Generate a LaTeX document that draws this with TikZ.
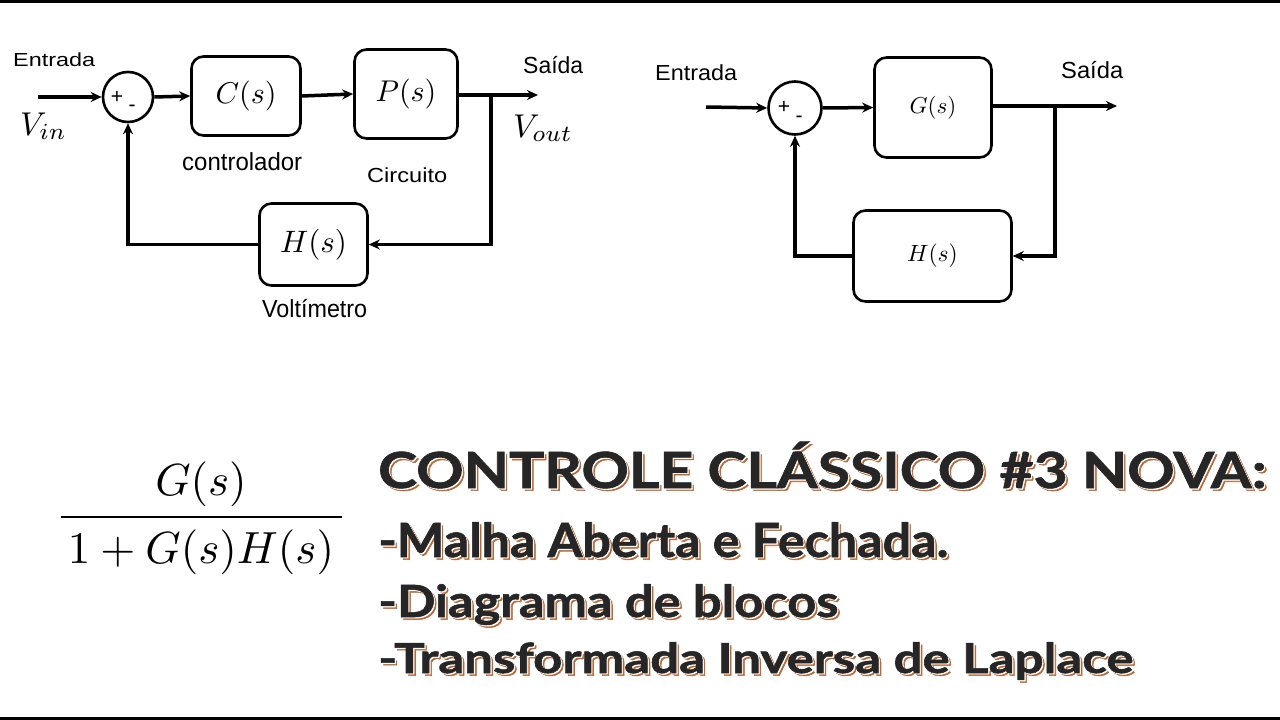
\documentclass[tikz,border=0pt]{standalone}
\usepackage[no-math]{fontspec}
\usepackage{graphicx}
\newfontfamily\arial{Liberation Sans}
\newfontfamily\titlefont{Lato}[BoldFeatures={FakeBold=1.2}]
\usetikzlibrary{arrows.meta}
\definecolor{shbrown}{RGB}{185,105,55}
\definecolor{tdark}{RGB}{38,38,38}
\newcommand\fitbox[3]{\resizebox{#1}{#2}{\smash{#3}\vphantom{H}}}
\newcommand\ttext[3]{\resizebox{#1}{#2}{\titlefont\bfseries\smash{#3}\vphantom{H}}}
\newcommand\mscale[2]{\scalebox{#1}{$#2$}}
\newcommand\shtext[3]{%
  \makebox[0pt][l]{\hspace{2.6pt}\raisebox{-2.6pt}{\color{shbrown}\ttext{#1}{#2}{#3}}}%
  \makebox[0pt][l]{\hspace{1.2pt}\raisebox{-1.2pt}{\color{white}\ttext{#1}{#2}{#3}}}%
  {\color{tdark}\ttext{#1}{#2}{#3}}}
\begin{document}
\begin{tikzpicture}[x=1pt,y=-1pt,
  wire/.style={line width=3.5pt},
  arr/.style={wire,-{Stealth[length=11pt,width=10pt]}},
  blk/.style={draw,line width=2.6pt,rounded corners=12pt,inner sep=0pt},
  sumj/.style={draw,circle,line width=2.6pt,minimum size=50pt,inner sep=0pt},
  lbl/.style={anchor=base west,inner sep=0pt,font=\arial},
  sgn/.style={inner sep=0pt,font=\arial\fontsize{21}{24}\selectfont},
  tl/.style={anchor=base west,inner sep=0pt},
  mth/.style={anchor=base west,inner sep=0pt}]
\useasboundingbox (0,0) rectangle (1280,720);
\fill[white] (0,0) rectangle (1280,720);
\fill[black] (0,0) rectangle (1280,3);
\fill[black] (0,717) rectangle (1280,720);

% ---------------- left diagram ----------------
\node[sumj] (sL) at (128,97) {};
\node[sgn] (sLp) at (117,97) {+};
\node[sgn] (sLm) at (132,108) {-};
\node[blk,minimum width=109pt,minimum height=79pt] (C) at (246,96) {\mscale{3}{C(s)}};
\node[blk,minimum width=103pt,minimum height=89pt] (P) at (406,94) {\mscale{3}{P(s)}};
\node[blk,minimum width=108pt,minimum height=82pt] (Hl) at (313.5,244.5) {\mscale{3.1}{H(s)}};
\coordinate (inL) at (38,97);
\coordinate (outL) at (538,95);
\coordinate (brL) at (491,95);
\draw[arr] (inL) -- (sL.west);
\draw[arr] (sL.east) -- (C.west);
\draw[arr] (C.east) -- (P.west);
\draw[arr] (P.east |- outL) -- (outL);
\draw[arr] (brL) |- (Hl.east);
\draw[arr] (Hl.west) -| (sL.south);
\node[lbl] (entL) at (13,66) {\fitbox{82pt}{13pt}{Entrada}};
\node[lbl] (ctl) at (182,170) {\fitbox{120pt}{17pt}{controlador}};
\node[lbl] (saiL) at (523,73) {\fitbox{60pt}{16pt}{Saída}};
\node[lbl] (circ) at (367,182) {\fitbox{80pt}{14pt}{Circuito}};
\node[lbl] (volt) at (262,317) {\fitbox{105pt}{17pt}{Voltímetro}};
\node[mth] (vin) at (20,135) {\mscale{3.3}{V_{in}}};
\node[mth] (vout) at (513,137) {\mscale{3.3}{V_{out}}};

% ---------------- right diagram ----------------
\node[sumj,minimum size=53pt] (sR) at (795,108) {};
\node[sgn] (sRp) at (784,107) {+};
\node[sgn] (sRm) at (799,119) {-};
\node[blk,minimum width=117pt,minimum height=100pt] (G) at (933,107.5) {\mscale{2.3}{G(s)}};
\node[blk,minimum width=158pt,minimum height=91pt] (Hr) at (932.5,256) {\mscale{2.35}{H(s)}};
\coordinate (inR) at (706,107);
\coordinate (outR) at (1117,106);
\coordinate (brR) at (1055,106);
\draw[arr] (inR) -- (sR.west);
\draw[arr] (sR.east) -- (G.west);
\draw[arr] (G.east |- outR) -- (outR);
\draw[arr] (brR) |- (Hr.east);
\draw[arr] (Hr.west) -| (sR.south);
\node[lbl] (entR) at (655,80) {\fitbox{82pt}{15pt}{Entrada}};
\node[lbl] (saiR) at (1061,78) {\fitbox{62pt}{16pt}{Saída}};

% ---------------- formula ----------------
\node[anchor=base,inner sep=0pt] (num) at (201,495) {\mscale{4.5}{G(s)}};
\node[anchor=base,inner sep=0pt] (den) at (201,563) {\mscale{4.5}{1+G(s)H(s)}};
\coordinate (barL) at (61,517);
\coordinate (barR) at (342,517);
\draw[line width=2.5pt] (barL) -- (barR);

% ---------------- title ----------------
\node[tl] (t1) at (378,488) {\shtext{888pt}{36pt}{CONTROLE CLÁSSICO \#3 NOVA:}};
\node[tl] (t2) at (378,557) {\shtext{570pt}{34pt}{-Malha Aberta e Fechada.}};
\node[tl] (t3) at (378,617) {\shtext{460pt}{32pt}{-Diagrama de blocos}};
\node[tl] (t4) at (378,673) {\shtext{755pt}{30pt}{-Transformada Inversa de Laplace}};
\end{tikzpicture}
\end{document}
